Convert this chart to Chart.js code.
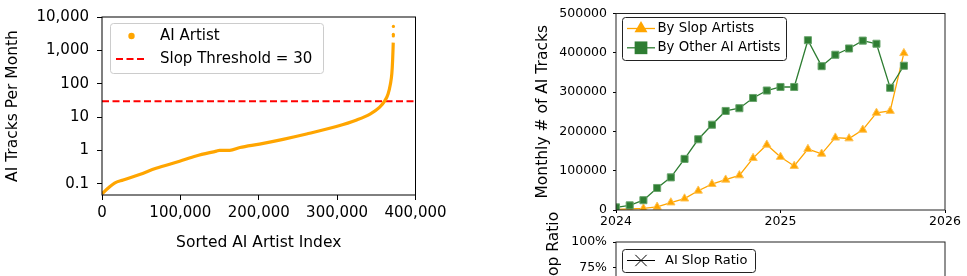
<!DOCTYPE html>
<html>
<head>
<meta charset="utf-8">
<script src="https://cdn.jsdelivr.net/npm/chart.js@4.4.1/dist/chart.umd.min.js"></script>
<style>
  html, body { margin: 0; padding: 0; background: #fff; }
  body { width: 967px; height: 276px; overflow: hidden; position: relative; }
  .panel { position: absolute; }
</style>
</head>
<body>
<div class="panel" style="left:0;top:0"><canvas id="dist" width="460" height="276"></canvas></div>
<div class="panel" style="left:530px;top:0"><canvas id="monthly" width="437" height="240"></canvas></div>
<div class="panel" style="left:530px;top:200px"><canvas id="ratio" width="437" height="160"></canvas></div>
<script>
// left panel: artists sorted by AI tracks per month
const artistIndex = [0, 8000, 16000, 27000, 48000, 69000, 99000, 120000, 146000, 150000, 163000, 176000,
  201000, 231000, 261000, 299000, 325000, 342000, 354000, 361000, 365000, 368000, 369800, 370800, 371400, 371600];
const tracksPerMonth = [0.05, 0.075, 0.105, 0.13, 0.19, 0.29, 0.47, 0.68, 0.95, 1.0, 1.0, 1.22,
  1.55, 2.15, 3.1, 5.2, 8.2, 12.3, 19.5, 31, 49, 98, 200, 500, 1200, 1700];
const topArtistIndex = [371700, 371700, 371800];
const topTracks = [2700, 3000, 5200];
const slopThreshold = 30;
const logTicks = [0.1, 1, 10, 100, 1000, 10000];
const logTickLabels = ['0.1', '1', '10', '100', '1,000', '10,000'];
const indexTicks = [0, 100000, 200000, 300000, 400000];
const indexTickLabels = ['0', '100,000', '200,000', '300,000', '400,000'];

// right panels: monthly AI tracks
const months = ['2024-01', '2024-02', '2024-03', '2024-04', '2024-05', '2024-06', '2024-07', '2024-08',
  '2024-09', '2024-10', '2024-11', '2024-12', '2025-01', '2025-02', '2025-03', '2025-04', '2025-05',
  '2025-06', '2025-07', '2025-08', '2025-09', '2025-10'];
const slopTracks = [1700, 2500, 4000, 8000, 19000, 29000, 49000, 66000, 77000, 88000, 132000, 166000,
  135000, 112000, 155000, 143000, 184000, 182000, 204000, 247000, 252000, 399000];
const otherTracks = [6700, 11700, 25000, 56000, 83000, 130000, 180000, 217000, 252000, 259000, 285000, 304000,
  313000, 313000, 432000, 366000, 395000, 411000, 431000, 423000, 311000, 367000];
const slopRatio = [0.20, 0.18, 0.14, 0.125, 0.19, 0.18, 0.21, 0.23, 0.23, 0.25, 0.32, 0.35,
  0.30, 0.26, 0.26, 0.28, 0.32, 0.31, 0.32, 0.37, 0.45, 0.52];
const yearTicks = [2024, 2025, 2026];
const countTicks = [0, 100000, 200000, 300000, 400000, 500000];
const ratioTicks = [0, 0.25, 0.5, 0.75, 1];
const ratioTickLabels = ['0%', '25%', '50%', '75%', '100%'];

const FONT = "'DejaVu Sans', sans-serif";
const ORANGE = '#ffa500';
const GREEN = '#2e7d32';

const monthX = months.map(m => {
  const [y, mo] = m.split('-').map(Number);
  return y + (mo - 1) / 12;
});
const pts = (xs, ys) => xs.map((x, i) => ({ x: x, y: ys[i] }));

function drawMarker(ctx, style, x, y, r, fill, stroke) {
  ctx.beginPath();
  if (style === 'circle') {
    ctx.arc(x, y, r, 0, Math.PI * 2);
  } else if (style === 'triangle') {
    ctx.moveTo(x, y - r);
    ctx.lineTo(x + r * 0.866, y + r * 0.5);
    ctx.lineTo(x - r * 0.866, y + r * 0.5);
    ctx.closePath();
  } else if (style === 'rect') {
    ctx.rect(x - r * 0.707, y - r * 0.707, r * 1.414, r * 1.414);
  } else if (style === 'crossRot') {
    const d = r * 0.707;
    ctx.moveTo(x - d, y - d); ctx.lineTo(x + d, y + d);
    ctx.moveTo(x + d, y - d); ctx.lineTo(x - d, y + d);
    ctx.strokeStyle = stroke || fill;
    ctx.lineWidth = 1;
    ctx.stroke();
    return;
  }
  ctx.fillStyle = fill;
  ctx.fill();
}

// full box around the plotting area
const frame = {
  id: 'frame',
  afterDatasetsDraw(chart, args, o) {
    const { ctx, chartArea: a } = chart;
    ctx.save();
    ctx.strokeStyle = o.color || '#000';
    ctx.lineWidth = 1;
    ctx.strokeRect(a.left, a.top, a.right - a.left, a.bottom - a.top);
    ctx.restore();
  }
};

// matplotlib-style legend box inside the axes
const boxLegend = {
  id: 'boxLegend',
  afterDraw(chart, args, o) {
    if (!o.items) return;
    const ctx = chart.ctx;
    ctx.save();
    ctx.beginPath();
    ctx.roundRect(o.x + 0.5, o.y + 0.5, o.w, o.h, 3);
    ctx.fillStyle = 'rgba(255,255,255,0.85)';
    ctx.fill();
    ctx.strokeStyle = o.edge;
    ctx.lineWidth = 1;
    ctx.stroke();
    o.items.forEach((it, i) => {
      const y = o.y + o.rowTop + i * o.rowGap;
      if (it.line) {
        ctx.beginPath();
        ctx.setLineDash(it.dash || []);
        ctx.strokeStyle = it.color;
        ctx.lineWidth = it.lineWidth;
        ctx.moveTo(o.x + o.lineFrom, y);
        ctx.lineTo(o.x + o.lineTo, y);
        ctx.stroke();
        ctx.setLineDash([]);
      }
      if (it.marker) {
        drawMarker(ctx, it.marker, o.x + (o.lineFrom + o.lineTo) / 2, y, it.size, it.color);
      }
      ctx.fillStyle = '#000';
      ctx.font = o.font;
      ctx.textBaseline = 'middle';
      ctx.textAlign = 'left';
      ctx.fillText(it.label, o.x + o.textX, y);
    });
    if (o.sideTitle) {
      const t = o.sideTitle;
      ctx.translate(t.x, t.y);
      ctx.rotate(-Math.PI / 2);
      ctx.font = t.font;
      ctx.fillStyle = '#000';
      ctx.textAlign = 'center';
      ctx.textBaseline = 'middle';
      ctx.fillText(t.text, 0, 0);
    }
    ctx.restore();
  }
};

Chart.register(frame, boxLegend);

const tickGrid = (len) => ({ drawOnChartArea: false, drawTicks: true, tickLength: len, color: '#000', lineWidth: 1 });

// ---- left: distribution of AI tracks per month ----
new Chart(document.getElementById('dist'), {
  type: 'scatter',
  data: {
    datasets: [
      {
        label: 'AI Artist',
        data: pts(artistIndex, tracksPerMonth),
        showLine: true,
        borderColor: ORANGE,
        borderWidth: 3.2,
        pointRadius: 0,
        cubicInterpolationMode: 'monotone'
      },
      {
        label: 'AI Artist top',
        data: pts(topArtistIndex, topTracks),
        backgroundColor: ORANGE,
        borderWidth: 0,
        pointRadius: 1.6
      },
      {
        label: 'Slop Threshold = 30',
        data: [{ x: indexTicks[0], y: slopThreshold }, { x: indexTicks[indexTicks.length - 1], y: slopThreshold }],
        showLine: true,
        borderColor: '#ff0000',
        borderWidth: 2,
        borderDash: [7, 3.5],
        pointRadius: 0
      }
    ]
  },
  options: {
    responsive: false,
    animation: false,
    layout: { padding: { top: 15.5, right: 44.5, bottom: 0, left: 0 }, autoPadding: false },
    plugins: {
      legend: { display: false },
      tooltip: { enabled: false },
      frame: { color: '#000' },
      boxLegend: {
        x: 110, y: 23, w: 213, h: 50, rowTop: 13, rowGap: 23,
        lineFrom: 6, lineTo: 37, textX: 50, edge: '#cccccc', font: '15px ' + FONT,
        items: [
          { label: 'AI Artist', color: ORANGE, marker: 'circle', size: 3.2 },
          { label: 'Slop Threshold = 30', color: '#ff0000', line: true, lineWidth: 2, dash: [7, 3.5] }
        ]
      }
    },
    scales: {
      x: {
        type: 'linear',
        min: 0,
        max: 400000,
        afterFit: s => { s.height = 81; },
        afterBuildTicks: s => { s.ticks = indexTicks.map(v => ({ value: v })); },
        grid: tickGrid(5),
        border: { display: false },
        ticks: {
          autoSkip: false, maxRotation: 0, padding: 4, color: '#000',
          font: { family: FONT, size: 15 },
          callback: (v, i) => indexTickLabels[i]
        },
        title: {
          display: true, text: 'Sorted AI Artist Index', color: '#000',
          font: { family: FONT, size: 15.5 }, padding: { top: 0, bottom: 24 }
        }
      },
      y: {
        type: 'logarithmic',
        min: 0.046,
        max: 10000,
        afterFit: s => { s.width = 102; },
        afterBuildTicks: s => { s.ticks = logTicks.map(v => ({ value: v })); },
        grid: tickGrid(5),
        border: { display: false },
        ticks: {
          autoSkip: false, padding: 8, color: '#000',
          font: { family: FONT, size: 15 },
          callback: (v, i) => logTickLabels[i]
        },
        title: {
          display: true, text: 'AI Tracks Per Month', color: '#000',
          font: { family: FONT, size: 15.5 }, padding: { top: 4, bottom: 0 }
        }
      }
    }
  }
});

// ---- right top: monthly AI tracks by group ----
new Chart(document.getElementById('monthly'), {
  type: 'line',
  data: {
    datasets: [
      {
        label: 'By Slop Artists',
        data: pts(monthX, slopTracks),
        borderColor: ORANGE,
        backgroundColor: ORANGE,
        pointBorderColor: '#ffc355',
        pointBorderWidth: 1,
        borderWidth: 1.3,
        pointStyle: 'triangle',
        pointRadius: 4.8,
        order: 1
      },
      {
        label: 'By Other AI Artists',
        data: pts(monthX, otherTracks),
        borderColor: GREEN,
        backgroundColor: GREEN,
        pointBorderColor: '#6aa56d',
        pointBorderWidth: 1,
        borderWidth: 1.3,
        pointStyle: 'rect',
        pointRadius: 5,
        order: 0
      }
    ]
  },
  options: {
    responsive: false,
    animation: false,
    layout: { padding: { top: 10.5, right: 22, bottom: 0, left: 0 }, autoPadding: false },
    plugins: {
      legend: { display: false },
      tooltip: { enabled: false },
      frame: { color: '#222' },
      boxLegend: {
        x: 92, y: 17, w: 164, h: 43, rowTop: 11.5, rowGap: 19.3,
        lineFrom: 5, lineTo: 33, textX: 35.5, edge: '#222', font: '13.3px ' + FONT,
        items: [
          { label: 'By Slop Artists', color: ORANGE, line: true, lineWidth: 1.3, marker: 'triangle', size: 7.5 },
          { label: 'By Other AI Artists', color: GREEN, line: true, lineWidth: 1.3, marker: 'rect', size: 9 }
        ]
      }
    },
    scales: {
      x: {
        type: 'linear',
        min: 2024,
        max: 2026,
        afterFit: s => { s.height = 30; },
        afterBuildTicks: s => { s.ticks = yearTicks.map(v => ({ value: v })); },
        grid: tickGrid(3),
        border: { display: false },
        ticks: {
          autoSkip: false, maxRotation: 0, padding: 1.5, color: '#000',
          font: { family: FONT, size: 12.5 },
          callback: v => String(v)
        }
      },
      y: {
        min: 0,
        max: 500000,
        afterFit: s => { s.width = 86; },
        afterBuildTicks: s => { s.ticks = countTicks.map(v => ({ value: v })); },
        grid: tickGrid(3),
        border: { display: false },
        ticks: {
          autoSkip: false, padding: 6, color: '#000',
          font: { family: FONT, size: 12.5 },
          callback: v => String(v)
        },
        title: {
          display: true, text: 'Monthly # of AI Tracks', color: '#000',
          font: { family: FONT, size: 15.5 }, padding: { top: 3.7, bottom: 0 }
        }
      }
    }
  }
});

// ---- right bottom: slop ratio (mostly below the visible window) ----
new Chart(document.getElementById('ratio'), {
  type: 'line',
  data: {
    datasets: [
      {
        label: 'AI Slop Ratio',
        data: pts(monthX, slopRatio),
        borderColor: '#000',
        borderWidth: 1,
        pointStyle: 'crossRot',
        pointRadius: 5,
        pointBorderColor: '#000',
        pointBorderWidth: 1
      }
    ]
  },
  options: {
    responsive: false,
    animation: false,
    layout: { padding: { top: 42, right: 22, bottom: 0, left: 0 }, autoPadding: false },
    plugins: {
      legend: { display: false },
      tooltip: { enabled: false },
      frame: { color: '#222' },
      boxLegend: {
        x: 92, y: 49, w: 133, h: 23, rowTop: 11.5, rowGap: 0,
        lineFrom: 5, lineTo: 33, textX: 43, edge: '#222', font: '13px ' + FONT,
        items: [
          { label: 'AI Slop Ratio', color: '#000', line: true, lineWidth: 1, marker: 'crossRot', size: 8 }
        ],
        sideTitle: { text: 'AI Slop Ratio', x: 24, y: 61, font: '15.5px ' + FONT }
      }
    },
    scales: {
      x: {
        type: 'linear',
        min: 2024,
        max: 2026,
        afterFit: s => { s.height = 17; },
        grid: { display: false },
        border: { display: false },
        ticks: { display: false }
      },
      y: {
        min: 0,
        max: 1,
        afterFit: s => { s.width = 86; },
        afterBuildTicks: s => { s.ticks = ratioTicks.map(v => ({ value: v })); },
        grid: tickGrid(3),
        border: { display: false },
        ticks: {
          autoSkip: false, padding: 6, color: '#000',
          font: { family: FONT, size: 12.5 },
          callback: (v, i) => ratioTickLabels[i]
        }
      }
    }
  }
});
</script>
</body>
</html>
